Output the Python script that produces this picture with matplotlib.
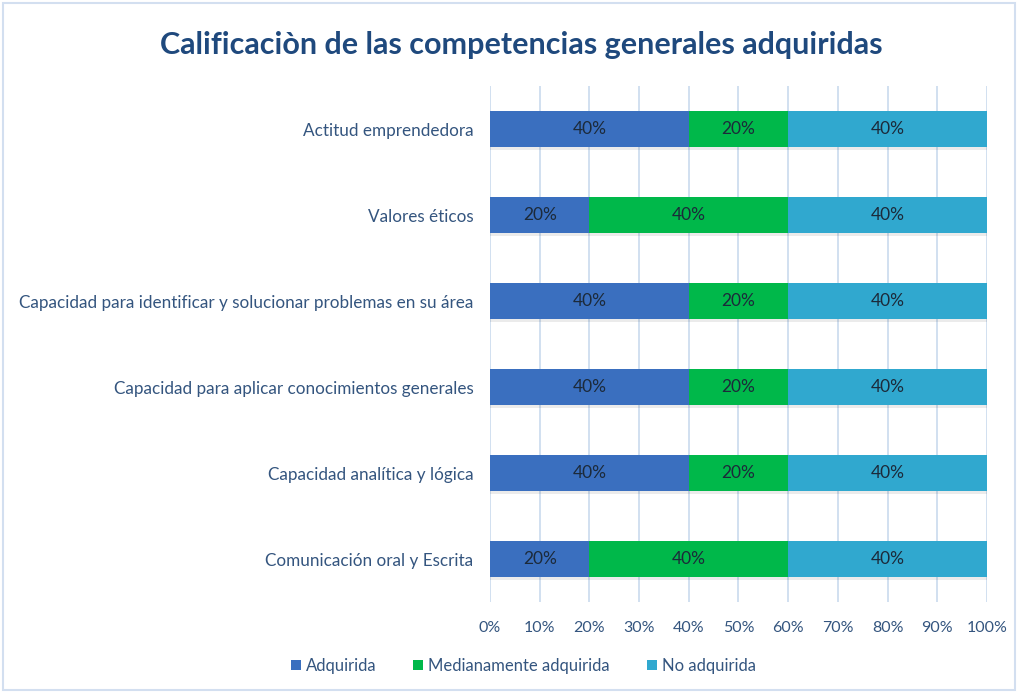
import matplotlib.pyplot as plt
from matplotlib.patches import Rectangle

categories = [
    "Comunicación oral y Escrita",
    "Capacidad analítica y lógica",
    "Capacidad para aplicar conocimientos generales",
    "Capacidad para identificar y solucionar problemas en su área",
    "Valores éticos",
    "Actitud emprendedora",
]
adquirida = [20, 40, 40, 40, 20, 40]
medianamente = [40, 20, 20, 20, 40, 20]
no_adquirida = [40, 40, 40, 40, 40, 40]

series = [
    ("Adquirida", adquirida, "#3a6fbf"),
    ("Medianamente adquirida", medianamente, "#00b84a"),
    ("No adquirida", no_adquirida, "#30a8cf"),
]

plt.rcParams['font.family'] = ['Lato', 'DejaVu Sans']
text_color = "#34557f"

fig = plt.figure(figsize=(10.18, 6.92), dpi=100)
ax = fig.add_axes([0.4813, 0.130, 0.4882, 0.7457])

fig.patches.append(Rectangle((0.003, 0.003), 0.994, 0.993, transform=fig.transFigure,
                             fill=False, edgecolor="#d3dff0", lw=1.5))

y = list(range(len(categories)))
left = [0] * len(categories)
bar_h = 0.41
for name, vals, color in series:
    # faint shadow under each bar
    ax.barh([v - 0.04 for v in y], vals, left=left, height=bar_h, color="#000000",
            alpha=0.08, zorder=2)
    bars = ax.barh(y, vals, left=left, height=bar_h, color=color, label=name, zorder=3)
    for b, v in zip(bars, vals):
        ax.text(b.get_x() + b.get_width() / 2, b.get_y() + b.get_height() / 2,
                "{}%".format(v), ha='center', va='center', fontsize=12.5,
                color="#1c2a3a", zorder=4)
    left = [l + v for l, v in zip(left, vals)]

ax.set_xlim(0, 100)
ax.set_ylim(-0.5, 5.5)
ax.set_xticks(range(0, 101, 10))
ax.set_xticklabels(["{}%".format(t) for t in range(0, 101, 10)])
ax.set_yticks(y)
ax.set_yticklabels(categories)
ax.tick_params(axis='x', length=0, pad=14, labelsize=11.5, labelcolor=text_color)
ax.tick_params(axis='y', length=0, pad=12, labelsize=12.3, labelcolor=text_color)
ax.xaxis.grid(True, color="#c9daee", lw=1.2, zorder=0)
ax.set_axisbelow(True)
for s in ax.spines.values():
    s.set_visible(False)

fig.text(0.512, 0.935, "Calificaciòn de las competencias generales adquiridas",
         ha='center', va='center', fontsize=22, fontweight='bold', color="#1f497d")

handles, labels = ax.get_legend_handles_labels()
fig.legend(handles, labels, loc='center', bbox_to_anchor=(0.514, 0.038), ncol=3,
           frameon=False, fontsize=12, labelcolor=text_color, handlelength=0.6,
           handleheight=0.6, handletextpad=0.3, columnspacing=2.2)

fig.savefig("out.png", dpi=100, facecolor="white")
